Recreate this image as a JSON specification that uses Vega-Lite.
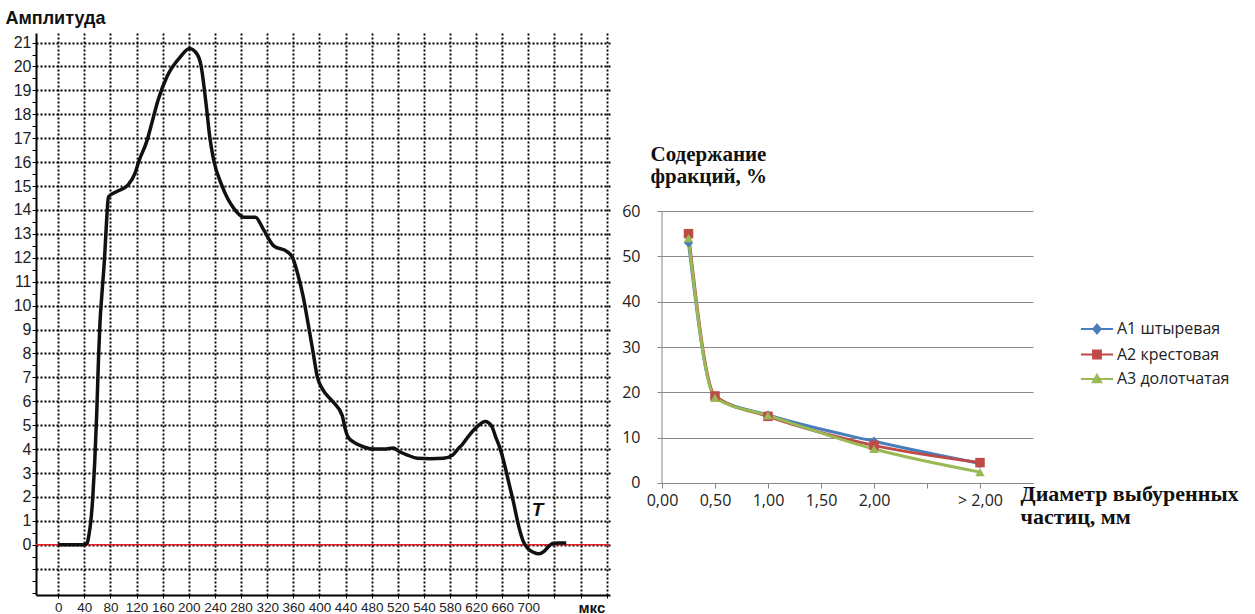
{
  "$schema": "https://vega.github.io/schema/vega-lite/v6.json",
  "background": "white",
  "padding": {"left": 5, "top": 9, "right": 0, "bottom": 0},
  "bounds": "flush",
  "spacing": 52,
  "config": {"view": {"stroke": null}},
  "hconcat": [
    {
      "width": 574,
      "height": 562,
      "layer": [
        {
          "data": {"values": [{"z": 0}]},
          "mark": {"type": "rule", "color": "#e8202a", "strokeWidth": 1.6},
          "encoding": {
            "y": {
              "field": "z", "type": "quantitative",
              "scale": {"domain": [-2.1, 21.4], "nice": false, "zero": false},
              "axis": {
                "values": [-2, -1.5, -1, -0.5, 0, 0.5, 1, 1.5, 2, 2.5, 3, 3.5, 4, 4.5, 5, 5.5, 6, 6.5, 7, 7.5, 8, 8.5, 9, 9.5, 10, 10.5, 11, 11.5, 12, 12.5, 13, 13.5, 14, 14.5, 15, 15.5, 16, 16.5, 17, 17.5, 18, 18.5, 19, 19.5, 20, 20.5, 21],
                "tickCount": 100,
                "labelExpr": "datum.value >= 0 && datum.value % 1 == 0 ? '' + datum.value : ''",
                "labelOverlap": false, "labelBound": false, "labelFlush": false,
                "grid": true, "gridColor": "#000000", "gridDash": [2, 2], "gridWidth": 1.9,
                "gridOpacity": {"condition": {"test": "datum.value % 1 != 0 || datum.value < -1.5", "value": 0}, "value": 1},
                "domainColor": "#000000", "domainWidth": 2,
                "tickColor": "#000000", "tickSize": 4,
                "labelFont": "Liberation Sans", "labelFontSize": 16, "labelColor": "#222222", "labelPadding": 1,
                "title": "Амплитуда", "titleAngle": 0, "titleAlign": "left", "titleBaseline": "middle",
                "titleX": -31, "titleY": -15, "titleFont": "Liberation Sans", "titleFontSize": 18,
                "titleFontWeight": "bold", "titleColor": "#111111"
              }
            }
          }
        },
        {
          "data": {"values": [
            {"t": 0, "a": 0}, {"t": 40, "a": 0}, {"t": 44, "a": 0.05}, {"t": 47, "a": 0.4}, {"t": 50, "a": 1},
            {"t": 53, "a": 2}, {"t": 56, "a": 3.5}, {"t": 59, "a": 5.5}, {"t": 62, "a": 8}, {"t": 64, "a": 9.3},
            {"t": 67, "a": 10.5}, {"t": 71, "a": 12}, {"t": 74, "a": 13.5}, {"t": 77, "a": 14.55}, {"t": 92, "a": 14.8},
            {"t": 107, "a": 15.05}, {"t": 118, "a": 15.56}, {"t": 123, "a": 16}, {"t": 136, "a": 16.9}, {"t": 144, "a": 17.7},
            {"t": 153, "a": 18.6}, {"t": 167, "a": 19.6}, {"t": 187, "a": 20.4}, {"t": 201, "a": 20.75}, {"t": 213, "a": 20.5},
            {"t": 219, "a": 20}, {"t": 224, "a": 19}, {"t": 228, "a": 18.06}, {"t": 232, "a": 17.07}, {"t": 238, "a": 16.1},
            {"t": 251, "a": 15}, {"t": 268, "a": 14.1}, {"t": 284, "a": 13.7}, {"t": 302, "a": 13.7}, {"t": 314, "a": 13.2},
            {"t": 330, "a": 12.5}, {"t": 351, "a": 12.25}, {"t": 359, "a": 12}, {"t": 368, "a": 11.2}, {"t": 375, "a": 10.4},
            {"t": 383, "a": 9.2}, {"t": 390, "a": 8.1}, {"t": 397, "a": 7}, {"t": 405, "a": 6.5}, {"t": 420, "a": 6},
            {"t": 435, "a": 5.4}, {"t": 439, "a": 4.9}, {"t": 444, "a": 4.5}, {"t": 452, "a": 4.3}, {"t": 463, "a": 4.15},
            {"t": 483, "a": 4.0}, {"t": 500, "a": 4.0}, {"t": 513, "a": 4.05}, {"t": 522, "a": 3.9}, {"t": 535, "a": 3.75},
            {"t": 550, "a": 3.62}, {"t": 570, "a": 3.6}, {"t": 590, "a": 3.62}, {"t": 604, "a": 3.75}, {"t": 612, "a": 4.0},
            {"t": 619, "a": 4.2}, {"t": 630, "a": 4.6}, {"t": 642, "a": 4.95}, {"t": 654, "a": 5.15}, {"t": 664, "a": 4.95},
            {"t": 670, "a": 4.5}, {"t": 677, "a": 4.0}, {"t": 684, "a": 3.3}, {"t": 690, "a": 2.6}, {"t": 697, "a": 1.8},
            {"t": 705, "a": 0.8}, {"t": 712, "a": 0.15}, {"t": 719, "a": -0.15}, {"t": 728, "a": -0.32}, {"t": 736, "a": -0.38},
            {"t": 744, "a": -0.28}, {"t": 750, "a": -0.1}, {"t": 757, "a": 0.05}, {"t": 765, "a": 0.07}, {"t": 778, "a": 0.07}
          ]},
          "mark": {"type": "line", "interpolate": "monotone", "color": "#111111", "strokeWidth": 3.5},
          "encoding": {
            "x": {
              "field": "t", "type": "quantitative",
              "scale": {"domain": [-34, 845], "nice": false, "zero": false},
              "axis": {
                "values": [0, 40, 80, 120, 160, 200, 240, 280, 320, 360, 400, 440, 480, 520, 560, 600, 640, 680, 720, 760, 800, 840],
                "tickCount": 100,
                "labelExpr": "datum.value <= 520 ? '' + datum.value : (datum.value <= 720 ? '' + (datum.value - 20) : '')",
                "labelOverlap": false, "labelBound": false, "labelFlush": false,
                "grid": true, "gridColor": "#000000", "gridDash": [2, 2], "gridWidth": 1.9,
                "domainColor": "#000000", "domainWidth": 2,
                "tickColor": "#000000", "tickSize": 3,
                "labelFont": "Liberation Sans", "labelFontSize": 13.5, "labelColor": "#222222", "labelPadding": 2,
                "title": "мкс", "titleFont": "Liberation Sans", "titleFontSize": 15, "titleFontWeight": "bold",
                "titleColor": "#111111", "titleX": 542, "titleY": 12, "titleAlign": "left", "titleBaseline": "middle"
              }
            },
            "y": {"field": "a", "type": "quantitative"}
          }
        },
        {
          "data": {"values": [{"t": 734, "a": 1.46, "lbl": "T"}]},
          "mark": {"type": "text", "font": "Liberation Sans", "fontSize": 19, "fontWeight": "bold", "fontStyle": "italic", "color": "#111111"},
          "encoding": {
            "x": {"field": "t", "type": "quantitative"},
            "y": {"field": "a", "type": "quantitative"},
            "text": {"field": "lbl"}
          }
        }
      ]
    },
    {
      "width": 371,
      "height": 562,
      "layer": [
        {
          "data": {"values": [{"x0": 0, "y0": 0, "y1": 60}]},
          "mark": {"type": "rule", "color": "#868686", "strokeWidth": 1},
          "encoding": {
            "x": {"field": "x0", "type": "quantitative"},
            "y": {"field": "y0", "type": "quantitative"},
            "y2": {"field": "y1"}
          }
        },
        {
          "data": {"name": "frac", "values": [
            {"d": 0.25, "v": 53, "s": "A1 штыревая"}, {"d": 0.5, "v": 19, "s": "A1 штыревая"}, {"d": 1, "v": 15, "s": "A1 штыревая"}, {"d": 2, "v": 9.2, "s": "A1 штыревая"}, {"d": 3, "v": 4.3, "s": "A1 штыревая"},
            {"d": 0.25, "v": 55, "s": "A2 крестовая"}, {"d": 0.5, "v": 19.2, "s": "A2 крестовая"}, {"d": 1, "v": 14.7, "s": "A2 крестовая"}, {"d": 2, "v": 8.3, "s": "A2 крестовая"}, {"d": 3, "v": 4.5, "s": "A2 крестовая"},
            {"d": 0.25, "v": 54, "s": "A3 долотчатая"}, {"d": 0.5, "v": 18.8, "s": "A3 долотчатая"}, {"d": 1, "v": 14.9, "s": "A3 долотчатая"}, {"d": 2, "v": 7.5, "s": "A3 долотчатая"}, {"d": 3, "v": 2.4, "s": "A3 долотчатая"}
          ]},
          "mark": {"type": "line", "interpolate": "monotone", "strokeWidth": 3},
          "encoding": {
            "x": {
              "field": "d", "type": "quantitative",
              "scale": {"domain": [0, 3.5], "nice": false, "zero": false},
              "axis": {
                "values": [0, 0.5, 1, 1.5, 2, 2.5, 3],
                "labelExpr": "datum.value == 2.5 ? '' : (datum.value == 3 ? '> 2,00' : replace(format(datum.value, '.2f'), '.', ','))",
                "labelOverlap": false, "labelBound": false, "labelFlush": false,
                "offset": -112,
                "grid": false,
                "domainColor": "#868686", "tickColor": "#868686", "tickSize": 5,
                "labelFont": "Open Sans", "labelFontSize": 16, "labelColor": "#222222", "labelPadding": 4,
                "title": ["Диаметр выбуренных", " частиц, мм"], "titleFont": "Liberation Serif", "titleFontSize": 22,
                "titleFontWeight": "bold", "titleColor": "#111111", "titleX": 358, "titleY": 17,
                "titleAlign": "left", "titleBaseline": "alphabetic", "titleLineHeight": 23
              }
            },
            "y": {
              "field": "v", "type": "quantitative",
              "scale": {"domain": [-24.71, 99.27], "nice": false, "zero": false},
              "axis": {
                "values": [0, 10, 20, 30, 40, 50, 60],
                "labelOverlap": false,
                "grid": true, "gridColor": "#868686", "gridWidth": 1,
                "domain": false,
                "tickColor": "#868686", "tickSize": 5,
                "labelFont": "Open Sans", "labelFontSize": 16, "labelColor": "#222222", "labelPadding": 17,
                "title": ["Содержание", "фракций, %"], "titleAngle": 0, "titleAlign": "left", "titleBaseline": "top",
                "titleX": -12, "titleY": 110, "titleFont": "Liberation Serif", "titleFontSize": 21,
                "titleFontWeight": "bold", "titleColor": "#111111", "titleLineHeight": 22
              }
            },
            "color": {
              "field": "s", "type": "nominal",
              "scale": {"domain": ["A1 штыревая", "A2 крестовая", "A3 долотчатая"], "range": ["#4A7EBB", "#BE4B48", "#98B954"]},
              "legend": {
                "orient": "none", "legendX": 1046, "legendY": 281, "title": null,
                "labelFont": "Open Sans", "labelFontSize": 16, "labelColor": "#222222",
                "symbolSize": 784, "rowPadding": 1.5, "labelOffset": 5, "padding": 0,
                "symbolStrokeWidth": 2,
                "encode": {
                  "symbols": {
                    "update": {
                      "shape": {"signal": "datum.value == 'A1 штыревая' ? 'M-1.15,0H1.15M0,-0.32L0.26,0L0,0.32L-0.26,0Z' : (datum.value == 'A2 крестовая' ? 'M-1.15,0H1.15M-0.28,-0.28H0.28V0.28H-0.28Z' : 'M-1.15,0H1.15M0,-0.3L0.3,0.24H-0.3Z')"},
                      "fill": {"signal": "datum.value == 'A1 штыревая' ? '#4A7EBB' : (datum.value == 'A2 крестовая' ? '#BE4B48' : '#98B954')"},
                      "stroke": {"signal": "datum.value == 'A1 штыревая' ? '#4A7EBB' : (datum.value == 'A2 крестовая' ? '#BE4B48' : '#98B954')"},
                      "strokeWidth": {"value": 2},
                      "opacity": {"value": 1}
                    }
                  }
                }
              }
            }
          }
        },
        {
          "data": {"name": "frac"},
          "transform": [{"filter": "datum.s == 'A1 штыревая'"}],
          "mark": {"type": "point", "shape": "diamond", "filled": true, "size": 90, "opacity": 1, "color": "#4A7EBB"},
          "encoding": {
            "x": {"field": "d", "type": "quantitative"},
            "y": {"field": "v", "type": "quantitative"}
          }
        },
        {
          "data": {"name": "frac"},
          "transform": [{"filter": "datum.s == 'A2 крестовая'"}],
          "mark": {"type": "point", "shape": "square", "filled": true, "size": 90, "opacity": 1, "color": "#BE4B48"},
          "encoding": {
            "x": {"field": "d", "type": "quantitative"},
            "y": {"field": "v", "type": "quantitative"}
          }
        },
        {
          "data": {"name": "frac"},
          "transform": [{"filter": "datum.s == 'A3 долотчатая'"}],
          "mark": {"type": "point", "shape": "triangle-up", "filled": true, "size": 90, "opacity": 1, "color": "#98B954"},
          "encoding": {
            "x": {"field": "d", "type": "quantitative"},
            "y": {"field": "v", "type": "quantitative"}
          }
        }
      ]
    }
  ]
}
